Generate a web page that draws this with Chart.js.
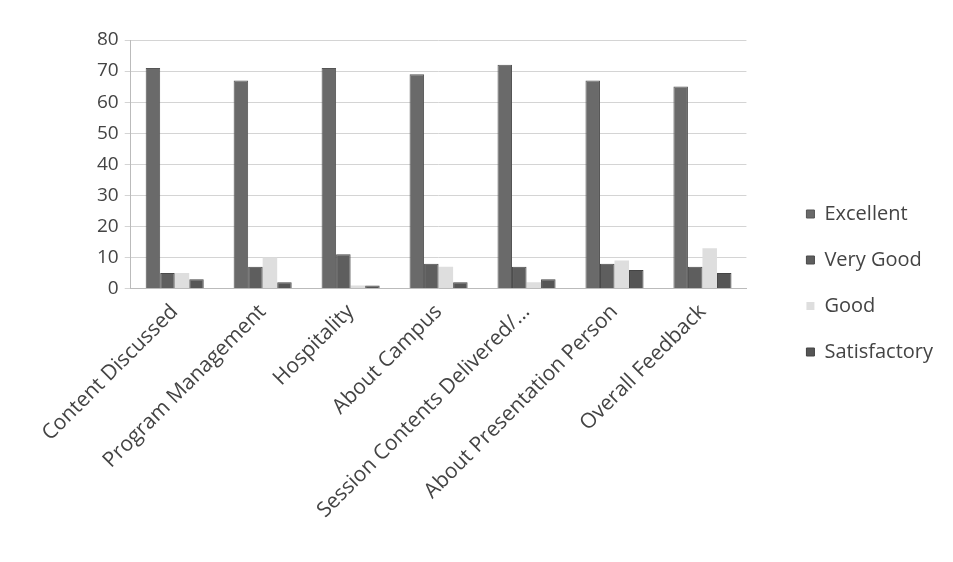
<!DOCTYPE html>
<html>
<head>
<meta charset="utf-8">
<script src="https://cdn.jsdelivr.net/npm/chart.js@4"></script>
<style>
  html, body { margin: 0; padding: 0; background: #fff; }
  #wrap { width: 953px; height: 562px; }
</style>
</head>
<body>
<div id="wrap"><canvas id="feedbackChart" width="953" height="562"></canvas></div>
<script>
// categories and series
var categories = ["Content Discussed", "Program Management", "Hospitality", "About Campus",
                  "Session Contents Delivered/...", "About Presentation Person", "Overall Feedback"];
var excellent    = [71, 67, 71, 69, 72, 67, 65];
var veryGood     = [5, 7, 11, 8, 7, 8, 7];
var good         = [5, 10, 1, 7, 2, 9, 13];
var satisfactory = [3, 2, 1, 2, 3, 6, 5];
var yTicks = [0, 10, 20, 30, 40, 50, 60, 70, 80];

Chart.defaults.font.family = "'Open Sans', sans-serif";
Chart.defaults.color = '#4a4a4a';

var ctx = document.getElementById("feedbackChart");
var feedbackChart = new Chart(ctx, {
    type: 'bar',
    data: {
        labels: categories,
        datasets: [
            { label: "Excellent",    data: excellent,    backgroundColor: '#6a6a6a', borderColor: '#555', borderWidth: 1 },
            { label: "Very Good",    data: veryGood,     backgroundColor: '#5e5e5e', borderColor: '#4a4a4a', borderWidth: 1 },
            { label: "Good",         data: good,         backgroundColor: '#dedede', borderColor: '#dedede', borderWidth: 0 },
            { label: "Satisfactory", data: satisfactory, backgroundColor: '#555555', borderColor: '#444', borderWidth: 1 }
        ]
    },
    options: {
        responsive: false,
        animation: false,
        layout: { padding: { top: 40, right: 10, bottom: 36, left: 91 } },
        datasets: { bar: { categoryPercentage: 0.66, barPercentage: 1.0 } },
        scales: {
            x: {
                grid: { display: false },
                border: { color: '#bbb' },
                ticks: { minRotation: 45, maxRotation: 45, font: { size: 21 }, color: '#444', autoSkip: false }
            },
            y: {
                min: 0, max: 80,
                afterBuildTicks: function(axis) { axis.ticks = yTicks.map(function(v) { return { value: v }; }); },
                grid: { color: '#d4d4d4', drawTicks: true, tickLength: 6 },
                border: { color: '#bbb' },
                ticks: { font: { size: 19 }, color: '#444', padding: 6 }
            },
            // empty spacer between the plot and the legend
            gap: {
                type: 'linear', position: 'right', display: true,
                grid: { display: false }, border: { display: false },
                ticks: { display: false },
                afterFit: function(scale) { scale.width = 34; }
            }
        },
        plugins: {
            legend: {
                position: 'right',
                maxWidth: 220,
                labels: { boxWidth: 8, boxHeight: 8, padding: 26, font: { size: 20 }, color: '#444' }
            },
            tooltip: { enabled: false }
        }
    }
});
</script>
</body>
</html>
